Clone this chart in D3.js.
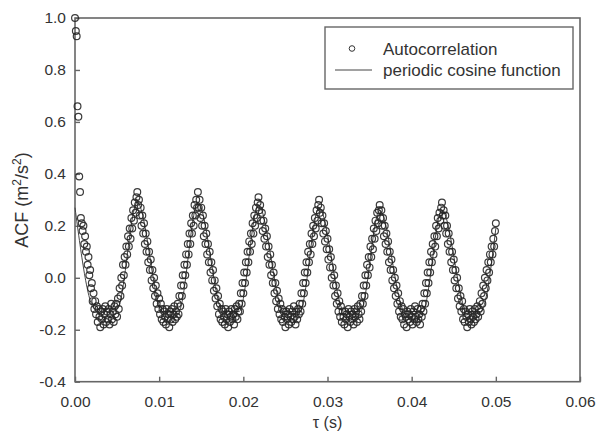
<!DOCTYPE html>
<html>
<head>
<meta charset="utf-8">
<script src="https://cdn.jsdelivr.net/npm/d3@7"></script>
<style>
  body { margin: 0; background: #fff; }
  svg text { font-family: "Liberation Sans", Arial, sans-serif; fill: #333; }
</style>
</head>
<body>
<svg id="chart" width="599" height="435"></svg>
<script>
// Autocorrelation samples, one every 0.1 ms from tau = 0
const sampleStep = 0.0001;
const acfValues = [
  1.00, 0.95, 0.93, 0.66, 0.62, 0.39, 0.33, 0.23, 0.21, 0.18, 0.20,
  0.13, 0.16, 0.10, 0.12, 0.05, 0.08, 0.01, 0.03, -0.04, -0.02,
  -0.09, -0.06, -0.12, -0.09, -0.14, -0.11, -0.17, -0.12, -0.15, -0.19,
  -0.13, -0.16, -0.12, -0.18, -0.14, -0.11, -0.17, -0.13, -0.16, -0.12,
  -0.18, -0.14, -0.10, -0.16, -0.13, -0.17, -0.11, -0.14, -0.10, -0.15,
  -0.08, -0.12, -0.04, -0.07, 0.00, -0.03, 0.05, 0.01, 0.08, 0.05,
  0.12, 0.09, 0.16, 0.12, 0.19, 0.15, 0.23, 0.19, 0.26, 0.22,
  0.29, 0.25, 0.31, 0.33,
  0.28, 0.30, 0.24, 0.27, 0.20, 0.24, 0.17, 0.21, 0.13, 0.17,
  0.10, 0.14, 0.06, 0.10, 0.03, 0.07, -0.01, 0.03, -0.04, 0.00,
  -0.07, -0.03, -0.10, -0.06, -0.12, -0.08, -0.14, -0.10, -0.16, -0.12,
  -0.17, -0.13, -0.15, -0.18, -0.12, -0.16, -0.14, -0.19, -0.13, -0.16,
  -0.12, -0.17, -0.14, -0.11, -0.16, -0.13, -0.15, -0.10, -0.14,
  -0.07, -0.11, -0.03, -0.07, 0.01, -0.03, 0.05, 0.01, 0.09, 0.05,
  0.13, 0.09, 0.17, 0.13, 0.21, 0.17, 0.24, 0.20, 0.28, 0.24,
  0.30, 0.27, 0.33,
  0.27, 0.30, 0.23, 0.27, 0.20, 0.24, 0.16, 0.20, 0.13, 0.17,
  0.09, 0.13, 0.06, 0.10, 0.02, 0.06, -0.01, 0.03, -0.05, -0.01,
  -0.08, -0.04, -0.11, -0.07, -0.14, -0.10, -0.16, -0.12, -0.17, -0.13,
  -0.15, -0.18, -0.12, -0.16, -0.14, -0.19, -0.13, -0.17, -0.15, -0.12,
  -0.16, -0.14, -0.18, -0.12, -0.15, -0.11, -0.16, -0.13, -0.10,
  -0.13, -0.06, -0.10, -0.02, -0.06, 0.02, -0.02, 0.06, 0.02, 0.10,
  0.06, 0.14, 0.10, 0.17, 0.13, 0.21, 0.17, 0.24, 0.20, 0.27,
  0.23, 0.29, 0.31,
  0.26, 0.28, 0.22, 0.25, 0.18, 0.22, 0.15, 0.19, 0.12, 0.16,
  0.08, 0.12, 0.05, 0.09, 0.01, 0.05, -0.02, 0.02, -0.06, -0.02,
  -0.09, -0.05, -0.12, -0.08, -0.14, -0.10, -0.16, -0.12, -0.17, -0.13,
  -0.15, -0.19, -0.13, -0.16, -0.14, -0.18, -0.12, -0.15, -0.17, -0.13,
  -0.16, -0.11, -0.15, -0.18, -0.13, -0.16, -0.12, -0.14, -0.10,
  -0.13, -0.06, -0.10, -0.02, -0.06, 0.02, -0.02, 0.06, 0.02, 0.10,
  0.06, 0.13, 0.09, 0.17, 0.13, 0.20, 0.16, 0.23, 0.19, 0.26,
  0.22, 0.28, 0.30,
  0.25, 0.27, 0.21, 0.24, 0.17, 0.21, 0.14, 0.18, 0.11, 0.15,
  0.07, 0.11, 0.04, 0.08, 0.00, 0.04, -0.03, 0.01, -0.07, -0.03,
  -0.10, -0.06, -0.13, -0.09, -0.15, -0.11, -0.17, -0.13, -0.15, -0.18,
  -0.13, -0.16, -0.14, -0.19, -0.12, -0.15, -0.17, -0.13, -0.16, -0.14,
  -0.18, -0.12, -0.15, -0.13, -0.17, -0.11, -0.14, -0.16, -0.10,
  -0.13, -0.07, -0.10, -0.03, -0.07, 0.01, -0.03, 0.05, 0.01, 0.08,
  0.04, 0.12, 0.08, 0.15, 0.11, 0.19, 0.15, 0.22, 0.18, 0.25,
  0.21, 0.26, 0.28,
  0.23, 0.26, 0.20, 0.23, 0.16, 0.20, 0.13, 0.17, 0.10, 0.14,
  0.06, 0.10, 0.03, 0.07, -0.01, 0.03, -0.04, 0.00, -0.07, -0.03,
  -0.10, -0.06, -0.13, -0.09, -0.15, -0.11, -0.16, -0.12, -0.18, -0.14,
  -0.15, -0.19, -0.13, -0.16, -0.14, -0.17, -0.12, -0.15, -0.18, -0.13,
  -0.16, -0.11, -0.15, -0.17, -0.12, -0.16, -0.14, -0.18, -0.12, -0.15, -0.10,
  -0.13, -0.06, -0.10, -0.02, -0.06, 0.02, -0.02, 0.06, 0.02, 0.10,
  0.06, 0.13, 0.09, 0.16, 0.12, 0.20, 0.16, 0.23, 0.19, 0.25,
  0.22, 0.27, 0.29,
  0.24, 0.26, 0.20, 0.24, 0.17, 0.20, 0.13, 0.17, 0.10, 0.14,
  0.06, 0.10, 0.03, 0.07, -0.01, 0.03, -0.04, 0.00, -0.08, -0.04,
  -0.11, -0.07, -0.13, -0.09, -0.16, -0.12, -0.17, -0.13, -0.15, -0.19,
  -0.14, -0.17, -0.12, -0.16, -0.18, -0.13, -0.15, -0.17, -0.12, -0.16,
  -0.14, -0.11, -0.15, -0.12, -0.09, -0.13,
  -0.06, -0.10, -0.03, -0.07, 0.00, -0.04, 0.03, -0.01, 0.06, 0.02,
  0.09, 0.06, 0.12, 0.09, 0.15, 0.12, 0.18, 0.21
];

// Periodic cosine fit, read as its corner points (tau in s, value)
const fitTau = [0, 0.0024, 0.0050, 0.0074, 0.0104, 0.0123, 0.0146, 0.0176, 0.0195, 0.0218,
  0.0248, 0.0267, 0.0290, 0.0320, 0.0339, 0.0362, 0.0392, 0.0413, 0.0436, 0.0466, 0.0482, 0.0500];
const fitVal = [0.27, -0.12, -0.12, 0.29, -0.13, -0.13, 0.29, -0.13, -0.13, 0.28,
  -0.13, -0.13, 0.27, -0.13, -0.13, 0.26, -0.13, -0.13, 0.26, -0.13, -0.13, 0.19];

const xTicks = [0, 0.01, 0.02, 0.03, 0.04, 0.05, 0.06];
const yTicks = [-0.4, -0.2, 0.0, 0.2, 0.4, 0.6, 0.8, 1.0];
const legendLabels = ["Autocorrelation", "periodic cosine function"];

const svg = d3.select("#chart");
const plotLeft = 75, plotRight = 580, plotTop = 18, plotBottom = 381.7;
const axisColor = "#666";
const tickFont = 15.5;

const x = d3.scaleLinear().domain([0, 0.06]).range([plotLeft, plotRight]);
const y = d3.scaleLinear().domain([-0.4, 1.0]).range([plotBottom, plotTop]);

// frame
svg.append("rect")
  .attr("x", plotLeft).attr("y", plotTop)
  .attr("width", plotRight - plotLeft).attr("height", plotBottom - plotTop)
  .attr("fill", "none").attr("stroke", axisColor).attr("stroke-width", 1.6);

const xAxis = svg.append("g")
  .attr("transform", `translate(0,${plotBottom})`)
  .call(d3.axisBottom(x).tickValues(xTicks).tickFormat(d3.format(".2f"))
    .tickSizeInner(-5).tickSizeOuter(0).tickPadding(14));

const yAxis = svg.append("g")
  .attr("transform", `translate(${plotLeft},0)`)
  .call(d3.axisLeft(y).tickValues(yTicks)
    .tickFormat(d => d3.format(".1f")(d).replace("\u2212", "-"))
    .tickSizeInner(-5).tickSizeOuter(0).tickPadding(9));

[xAxis, yAxis].forEach(g => {
  g.attr("font-family", null);
  g.select(".domain").remove();
  g.selectAll(".tick line").attr("stroke", axisColor).attr("stroke-width", 1.4);
  g.selectAll(".tick text").attr("font-size", tickFont).attr("fill", "#333");
});

// axis titles
svg.append("text")
  .attr("x", (plotLeft + plotRight) / 2).attr("y", 428)
  .attr("text-anchor", "middle").attr("font-size", 16)
  .text("τ (s)");

const yTitle = svg.append("text")
  .attr("transform", `translate(28,200) rotate(-90)`)
  .attr("text-anchor", "middle").attr("font-size", 18);
yTitle.append("tspan").text("ACF (m");
yTitle.append("tspan").attr("baseline-shift", "super").attr("font-size", 12).text("2");
yTitle.append("tspan").text("/s");
yTitle.append("tspan").attr("baseline-shift", "super").attr("font-size", 12).text("2");
yTitle.append("tspan").text(")");

// cosine fit line
const fitPoints = fitTau.map((t, i) => [t, fitVal[i]]);
svg.append("path")
  .datum(fitPoints)
  .attr("fill", "none").attr("stroke", "#444").attr("stroke-width", 1)
  .attr("d", d3.line().x(d => x(d[0])).y(d => y(d[1])).curve(d3.curveMonotoneX));

// autocorrelation circles
svg.append("g")
  .selectAll("circle")
  .data(acfValues)
  .join("circle")
  .attr("cx", (d, i) => x(i * sampleStep))
  .attr("cy", d => y(d))
  .attr("r", 3.4)
  .attr("fill", "none")
  .attr("stroke", "#262626")
  .attr("stroke-opacity", 0.9)
  .attr("stroke-width", 1.2);

// legend
const legend = svg.append("g");
legend.append("rect")
  .attr("x", 325).attr("y", 27).attr("width", 248).attr("height", 62)
  .attr("fill", "#fff").attr("stroke", axisColor).attr("stroke-width", 1.4);
legend.append("circle")
  .attr("cx", 352).attr("cy", 48.5).attr("r", 2.8)
  .attr("fill", "none").attr("stroke", "#333").attr("stroke-width", 1);
legend.append("line")
  .attr("x1", 335).attr("x2", 372).attr("y1", 70).attr("y2", 70)
  .attr("stroke", "#444").attr("stroke-width", 1);
legend.selectAll("text.lab")
  .data(legendLabels)
  .join("text")
  .attr("class", "lab")
  .attr("x", 383)
  .attr("y", (d, i) => 54.5 + i * 21)
  .attr("font-size", 17)
  .text(d => d);
</script>
</body>
</html>
